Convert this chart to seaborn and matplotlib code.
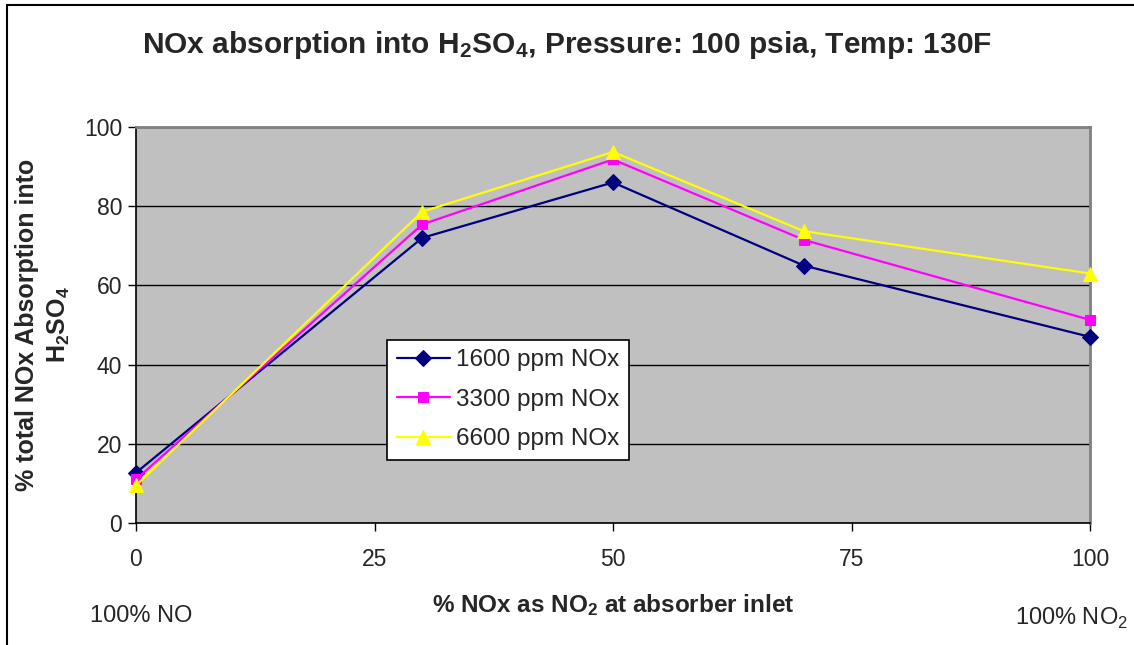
import matplotlib
matplotlib.use("Agg")
import matplotlib.pyplot as plt
from matplotlib.patches import Rectangle
import seaborn as sns

# % NOx as NO2 at absorber inlet
x_no2 = [0, 30, 50, 70, 100]
# % total NOx absorbed into H2SO4, per inlet concentration
nox_1600 = [12.7, 72.0, 86.0, 65.0, 47.0]
nox_3300 = [11.0, 75.4, 91.8, 71.5, 51.3]
nox_6600 = [9.5, 78.6, 93.7, 73.7, 63.0]
series_labels = ["1600 ppm NOx", "3300 ppm NOx", "6600 ppm NOx"]
x_ticks = [0, 25, 50, 75, 100]
y_ticks = [0, 20, 40, 60, 80, 100]

sns.set_style("white")
plt.rcParams['font.family'] = ['Liberation Sans', 'DejaVu Sans']
plt.rcParams['mathtext.fontset'] = 'custom'
plt.rcParams['mathtext.rm'] = 'Liberation Sans'
plt.rcParams['mathtext.bf'] = 'Liberation Sans:bold'

fig = plt.figure(figsize=(11.34, 6.45), dpi=100)
ax = fig.add_axes([136/1134, 1 - 523/645, (1090-136)/1134, (523-127)/645])
ax.set_facecolor('#C0C0C0')

styles = [('D', '#000080', 8), ('s', '#FF00FF', 7.5), ('^', '#FFFF00', 9.5)]
for vals, lab, (mk, col, ms) in zip([nox_1600, nox_3300, nox_6600], series_labels, styles):
    sns.lineplot(x=x_no2, y=vals, ax=ax, marker=mk, color=col, markersize=ms,
                 markeredgecolor=col, linewidth=1.6, label=lab, clip_on=False, zorder=3)

ax.set_xlim(0, 100)
ax.set_ylim(0, 100)
ax.set_xticks(x_ticks)
ax.set_yticks(y_ticks)
ax.tick_params(axis='both', labelsize=16.5, direction='out', length=6, width=1,
               color='black', pad=4, left=True, bottom=True)
ax.tick_params(axis='x', pad=12)
ax.grid(axis='y', color='black', linewidth=1)
ax.grid(axis='x', visible=False)
ax.set_axisbelow(True)
for side in ['left', 'bottom']:
    ax.spines[side].set_color('black')
    ax.spines[side].set_linewidth(1.2)
for side in ['top', 'right']:
    ax.spines[side].set_visible(True)
    ax.spines[side].set_color('#808080')
    ax.spines[side].set_linewidth(2)

ax.set_xlabel(r'% NOx as NO$\mathbf{_2}$ at absorber inlet', fontsize=17.5,
              fontweight='bold', labelpad=15)
ax.set_ylabel('% total NOx Absorption into\n' + r'$\mathbf{H_2SO_4}$', fontsize=18,
              fontweight='bold', labelpad=8.5, linespacing=1.35)

fig.text(0.5, 1 - 45/645, r'NOx absorption into $\mathbf{H_2SO_4}$, Pressure: 100 psia, Temp: 130F',
         ha='center', va='center', fontsize=21.5, fontweight='bold')
fig.text(90/1134, 1 - 616/645, '100% NO', ha='left', va='center', fontsize=17)
fig.text(1128/1134, 1 - 618/645, r'100% NO$_2$', ha='right', va='center', fontsize=17)

leg = ax.legend(loc='lower left', bbox_to_anchor=((387-136)/954, (523-460)/396),
                fontsize=17.5, frameon=True, fancybox=False, framealpha=1,
                edgecolor='black', borderpad=0.4, labelspacing=0.72,
                handlelength=2.2, handletextpad=0.25, borderaxespad=0)
leg.get_frame().set_linewidth(1.2)

# outer chart frame
fig.patches.append(Rectangle((7/1134, -0.1), 1.2, 1.1 - 5/645, transform=fig.transFigure,
                             fill=False, edgecolor='black', linewidth=1.5))

fig.savefig('out.png', dpi=100)
